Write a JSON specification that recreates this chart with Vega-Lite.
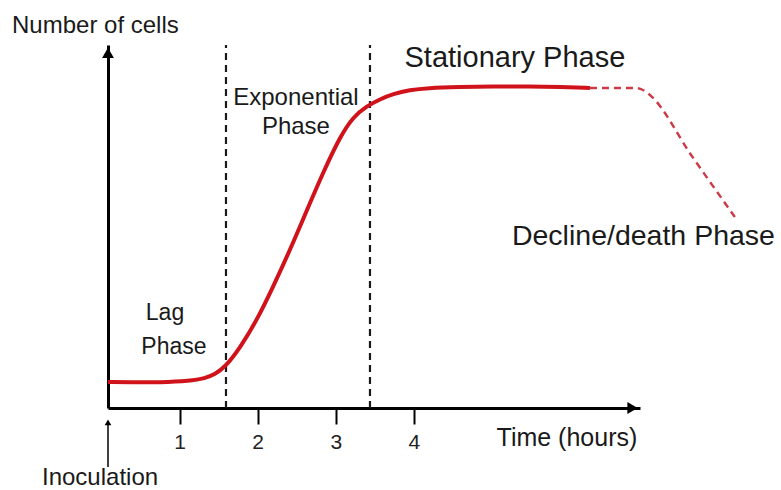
{
  "$schema": "https://vega.github.io/schema/vega-lite/v6.json",
  "width": 532,
  "height": 363,
  "autosize": {"type": "none"},
  "padding": {"left": 108, "top": 45, "right": 141, "bottom": 82},
  "background": "white",
  "config": {"view": {"stroke": null}, "font": "Liberation Sans", "text": {"font": "Liberation Sans", "color": "#1a1a1a"}},
  "data": {"values": [{}]},
  "datasets": {
    "growth": [
      {"time": 0.083, "cells": 6.5, "segment": "observed"},
      {"time": 0.365, "cells": 6.4, "segment": "observed"},
      {"time": 0.749, "cells": 6.4, "segment": "observed"},
      {"time": 1.133, "cells": 6.75, "segment": "observed"},
      {"time": 1.325, "cells": 7.4, "segment": "observed"},
      {"time": 1.453, "cells": 8.4, "segment": "observed"},
      {"time": 1.581, "cells": 10.2, "segment": "observed"},
      {"time": 1.773, "cells": 15.0, "segment": "observed"},
      {"time": 1.991, "cells": 22.0, "segment": "observed"},
      {"time": 2.196, "cells": 30.25, "segment": "observed"},
      {"time": 2.414, "cells": 39.5, "segment": "observed"},
      {"time": 2.631, "cells": 49.5, "segment": "observed"},
      {"time": 2.836, "cells": 58.8, "segment": "observed"},
      {"time": 3.054, "cells": 67.8, "segment": "observed"},
      {"time": 3.22, "cells": 72.75, "segment": "observed"},
      {"time": 3.4, "cells": 75.5, "segment": "observed"},
      {"time": 3.566, "cells": 77.2, "segment": "observed"},
      {"time": 3.732, "cells": 78.5, "segment": "observed"},
      {"time": 3.95, "cells": 79.5, "segment": "observed"},
      {"time": 4.168, "cells": 80.0, "segment": "observed"},
      {"time": 4.59, "cells": 80.25, "segment": "observed"},
      {"time": 5.013, "cells": 80.4, "segment": "observed"},
      {"time": 5.486, "cells": 80.4, "segment": "observed"},
      {"time": 5.871, "cells": 80.25, "segment": "observed"},
      {"time": 6.255, "cells": 80.0, "segment": "observed"},
      {"time": 6.255, "cells": 80.0, "segment": "projected"},
      {"time": 6.575, "cells": 80.0, "segment": "projected"},
      {"time": 6.831, "cells": 80.0, "segment": "projected"},
      {"time": 6.934, "cells": 79.5, "segment": "projected"},
      {"time": 7.023, "cells": 78.25, "segment": "projected"},
      {"time": 7.56, "cells": 63.0, "segment": "projected"},
      {"time": 8.111, "cells": 47.75, "segment": "projected"}
    ],
    "boundaries": [{"time": 1.594}, {"time": 3.438}]
  },
  "layer": [
    {
      "data": {"name": "boundaries"},
      "mark": {"type": "rule", "color": "#1a1a1a", "strokeWidth": 2.2, "strokeDash": [7, 5]},
      "encoding": {
        "x": {"field": "time", "type": "quantitative",
          "scale": {"domain": [0.083, 6.896], "nice": false, "zero": false},
          "axis": {"values": [1, 2, 3, 4], "format": "d", "domainColor": "black", "domainWidth": 3, "tickColor": "black", "tickWidth": 2, "tickSize": 16, "labelFontSize": 21, "labelColor": "#222222", "labelPadding": 7, "labelFont": "Liberation Sans", "title": null, "grid": false}},
        "y": {"datum": 0, "type": "quantitative",
          "scale": {"domain": [0, 90.75], "nice": false, "zero": false},
          "axis": {"domainColor": "black", "domainWidth": 3, "ticks": false, "labels": false, "title": null, "grid": false}},
        "y2": {"datum": 90.75}
      }
    },
    {
      "data": {"name": "growth"},
      "transform": [{"filter": "datum.segment === 'observed'"}],
      "mark": {"type": "line", "color": "#d0121b", "strokeWidth": 4, "interpolate": "basis"},
      "encoding": {
        "x": {"field": "time", "type": "quantitative"},
        "y": {"field": "cells", "type": "quantitative"}
      }
    },
    {
      "data": {"name": "growth"},
      "transform": [{"filter": "datum.segment === 'projected'"}],
      "mark": {"type": "line", "color": "#cc3a47", "strokeWidth": 2.4, "strokeDash": [7, 5], "interpolate": "monotone"},
      "encoding": {
        "x": {"field": "time", "type": "quantitative"},
        "y": {"field": "cells", "type": "quantitative"}
      }
    },
    {
      "mark": {"type": "point", "shape": "triangle-up", "filled": true, "color": "black", "opacity": 1, "size": 140},
      "encoding": {"x": {"datum": 0.083}, "y": {"datum": 88.8}}
    },
    {
      "mark": {"type": "point", "shape": "triangle-right", "filled": true, "color": "black", "opacity": 1, "size": 140},
      "encoding": {"x": {"datum": 6.8}, "y": {"datum": 0}}
    },
    {
      "mark": {"type": "rule", "color": "black", "strokeWidth": 1.5},
      "encoding": {"x": {"datum": 0.083}, "y": {"datum": -14.75}, "y2": {"datum": -4}}
    },
    {
      "mark": {"type": "point", "shape": "triangle-up", "filled": true, "color": "black", "opacity": 1, "size": 45},
      "encoding": {"x": {"datum": 0.083}, "y": {"datum": -3.6}}
    },
    {
      "mark": {"type": "text", "text": "Number of cells", "fontSize": 24, "align": "left", "baseline": "middle"},
      "encoding": {"x": {"datum": -1.146}, "y": {"datum": 95.5}}
    },
    {
      "mark": {"type": "text", "text": ["Exponential", "Phase"], "fontSize": 24, "lineHeight": 29, "align": "center", "baseline": "middle"},
      "encoding": {"x": {"datum": 2.49}, "y": {"datum": 77.6}}
    },
    {
      "mark": {"type": "text", "text": "Stationary Phase", "fontSize": 29, "align": "center", "baseline": "middle"},
      "encoding": {"x": {"datum": 5.294}, "y": {"datum": 87.5}}
    },
    {
      "mark": {"type": "text", "text": "Lag", "fontSize": 23, "align": "center", "baseline": "middle"},
      "encoding": {"x": {"datum": 0.813}, "y": {"datum": 23.75}}
    },
    {
      "mark": {"type": "text", "text": "Phase", "fontSize": 23, "align": "center", "baseline": "middle"},
      "encoding": {"x": {"datum": 0.928}, "y": {"datum": 15.25}}
    },
    {
      "mark": {"type": "text", "text": "Decline/death Phase", "fontSize": 28.5, "align": "center", "baseline": "middle"},
      "encoding": {"x": {"datum": 6.94}, "y": {"datum": 43}}
    },
    {
      "mark": {"type": "text", "text": "Time (hours)", "fontSize": 25, "align": "center", "baseline": "middle"},
      "encoding": {"x": {"datum": 5.96}, "y": {"datum": -7.5}}
    },
    {
      "mark": {"type": "text", "text": "Inoculation", "fontSize": 24, "align": "center", "baseline": "middle"},
      "encoding": {"x": {"datum": -0.019}, "y": {"datum": -17.5}}
    }
  ]
}
